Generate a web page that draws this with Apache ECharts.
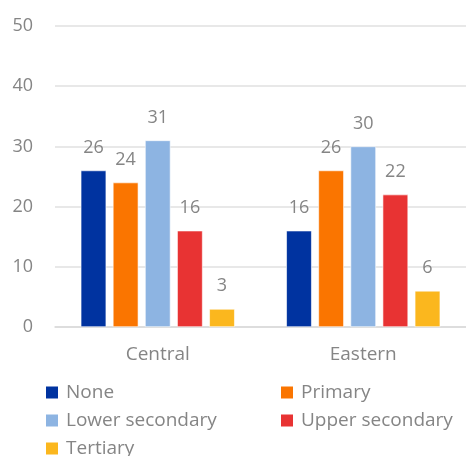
<!DOCTYPE html>
<html>
<head>
<meta charset="utf-8">
<script src="https://cdn.jsdelivr.net/npm/echarts@6/dist/echarts.min.js"></script>
<style>
  html, body { margin: 0; padding: 0; background: #fff; }
  #chart { width: 466px; height: 456px; }
</style>
</head>
<body>
<div id="chart"></div>
<script>
// Regions on the category axis
const regions = ['Central', 'Eastern'];

// Share (%) by education level
const none = [26, 16];
const primary = [24, 26];
const lowerSecondary = [31, 30];
const upperSecondary = [16, 22];
const tertiary = [3, 6];

// Value axis ticks
const yTicks = [0, 10, 20, 30, 40, 50];

const FONT = 'Open Sans';
const GREY = '#858585';

function bar(name, data, color) {
  return {
    name: name,
    type: 'bar',
    data: data,
    barWidth: 25.5,
    barGap: '26%',
    itemStyle: { color: color, borderColor: '#ffffff', borderWidth: 0.6 },
    label: {
      show: true,
      position: 'top',
      distance: 14,
      color: GREY,
      fontFamily: FONT,
      fontSize: 18
    }
  };
}

function legendBlock(left, names) {
  return {
    orient: 'vertical',
    left: left,
    top: 383,
    height: 140,
    padding: 0,
    itemWidth: 14,
    itemHeight: 14,
    itemGap: 9,
    icon: 'rect',
    data: names,
    textStyle: {
      color: GREY,
      fontFamily: FONT,
      fontSize: 19,
      padding: [0, 0, 0, 2]
    }
  };
}

const chart = echarts.init(document.getElementById('chart'), null, { renderer: 'canvas' });
chart.setOption({
  animation: false,
  backgroundColor: '#ffffff',
  grid: { left: 55, right: 0, top: 26, bottom: 129 },
  xAxis: {
    type: 'category',
    data: regions,
    axisLine: { lineStyle: { color: '#d9d9d9', width: 1.5 } },
    axisTick: { show: false },
    axisLabel: { color: GREY, fontFamily: FONT, fontSize: 19, margin: 18 }
  },
  yAxis: {
    type: 'value',
    min: yTicks[0],
    max: yTicks[yTicks.length - 1],
    interval: 10,
    axisLine: { show: false },
    axisTick: { show: false },
    splitLine: { lineStyle: { color: '#e0e0e0', width: 1.5 } },
    axisLabel: { color: GREY, fontFamily: FONT, fontSize: 18, margin: 22 }
  },
  legend: [
    legendBlock(44, ['None', 'Lower secondary', 'Tertiary']),
    legendBlock(279, ['Primary', 'Upper secondary'])
  ],
  series: [
    bar('None', none, '#0033a0'),
    bar('Primary', primary, '#fa7500'),
    bar('Lower secondary', lowerSecondary, '#8db4e2'),
    bar('Upper secondary', upperSecondary, '#e83333'),
    bar('Tertiary', tertiary, '#fbb71e')
  ]
});
</script>
</body>
</html>
